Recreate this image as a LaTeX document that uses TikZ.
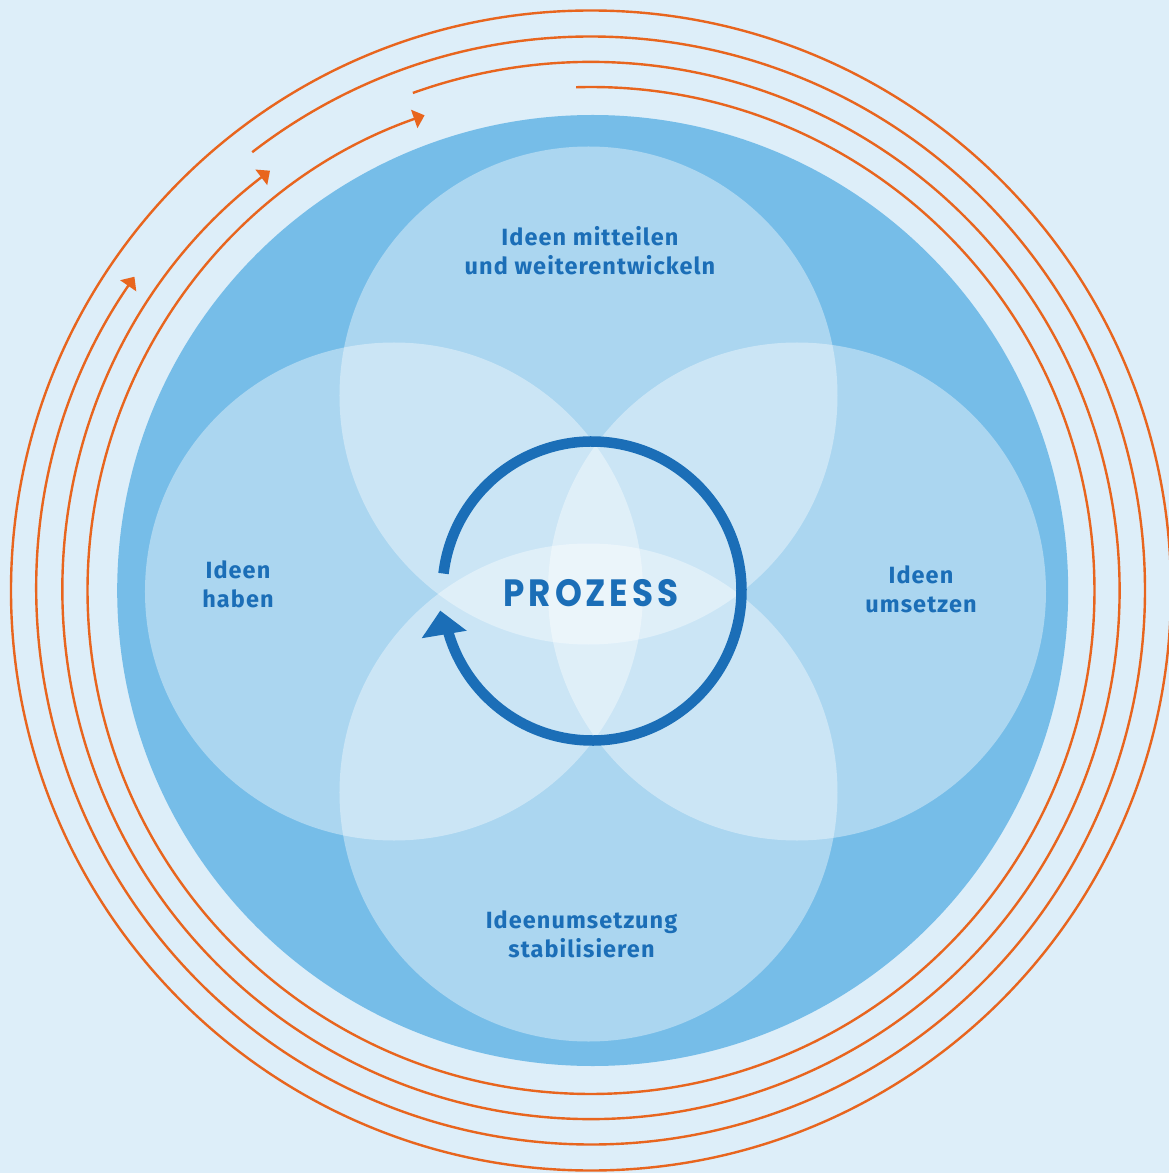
\documentclass[tikz,border=0pt]{standalone}
\usepackage{fontspec}
\usetikzlibrary{arrows.meta}
\newfontfamily\lblfont[LetterSpace=4.5]{Fira Sans}
\newfontfamily\prozfont[LetterSpace=10,FakeStretch=0.9]{Poppins}
\definecolor{bgblue}{HTML}{DDEEF9}
\definecolor{bigblue}{HTML}{76BDE8}
\definecolor{darkblue}{HTML}{1B6EB7}
\definecolor{orng}{HTML}{E8651E}
\tikzset{
  petal/.style={fill=white, fill opacity=0.39},
  lbl/.style={text=darkblue, font=\lblfont\bfseries\fontsize{23.5}{29}\selectfont, align=center, inner sep=0pt},
  proz/.style={text=darkblue, font=\prozfont\bfseries\fontsize{38}{40}\selectfont, inner sep=0pt},
  orbit/.style={draw=orng, line width=2.4pt},
  orbitarrow/.style={orbit, -{Triangle[length=11pt,width=19pt]}},
  ringline/.style={draw=darkblue, line width=10.5pt},
}
\begin{document}
\begin{tikzpicture}[x=1pt,y=1pt]
\path[use as bounding box, fill=bgblue] (-592,-582) rectangle (577,591);
% orbit centre
\coordinate (oc) at (-1,0.5);
\draw[orbit] (oc) circle[radius=580];
\draw[orbitarrow] ([shift={(127.7:554)}]oc) arc[start angle=127.7, end angle=-214.5, radius=554];
\draw[orbitarrow] ([shift={(109.7:528.5)}]oc) arc[start angle=109.7, end angle=-232.6, radius=528.5];
\draw[orbitarrow] ([shift={(91.7:503.5)}]oc) arc[start angle=91.7, end angle=-250.7, radius=503.5];
% big disc
\fill[bigblue] (0.7,0.5) circle[radius=475.5];
% four petals
\fill[petal] (-3.5,195.5) circle[radius=249];
\fill[petal] (-3.5,-201.5) circle[radius=249];
\fill[petal] (-198,-0.5) circle[radius=249];
\fill[petal] (205,-0.5) circle[radius=249];
% central cycle arrow
\coordinate (rc) at (0,0);
\draw[ringline] ([shift={(173.3:149.5)}]rc) arc[start angle=173.3, end angle=-168, radius=149.5];
\fill[darkblue] ([shift={(187.4:153)}]rc) -- ([shift={(195.5:176.7)}]rc) -- ([shift={(197.6:131.4)}]rc) -- cycle;
% labels
\node[lbl] (lbltop) at (-2,340.5) {Ideen mitteilen\\und weiterentwickeln};
\node[lbl] (lblleft) at (-354,6.5) {Ideen\\haben};
\node[lbl] (lblright) at (329,1.5) {Ideen\\umsetzen};
\node[lbl] (lblbottom) at (-10.5,-343.5) {Ideenumsetzung\\stabilisieren};
\node[proz] (center) at (-1,-2.5) {PROZESS};
\end{tikzpicture}
\end{document}
